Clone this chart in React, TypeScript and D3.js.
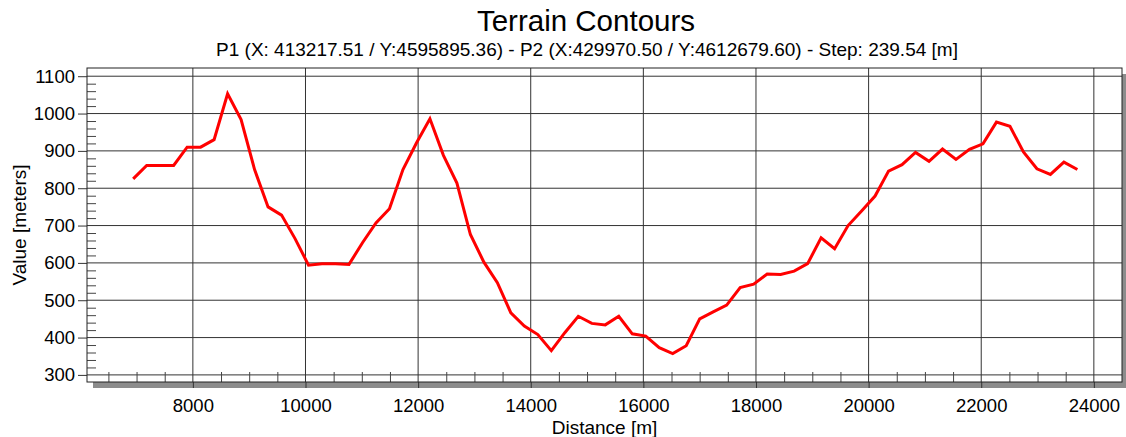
import * as d3 from 'd3';
import { useEffect, useRef } from 'react';

const chartTitle = 'Terrain Contours';
const chartSubtitle = 'P1 (X: 413217.51 / Y:4595895.36) - P2 (X:429970.50 / Y:4612679.60) - Step: 239.54 [m]';
const xTitle = 'Distance [m]';
const yTitle = 'Value [meters]';

// profile samples, one every step metres starting at startDistance
const startDistance = 6940;
const step = 239.54;
const elevations = [
  825, 861, 861, 861, 910, 910, 930, 1053, 984, 850,
  750, 728, 665, 594, 598, 598, 596, 654, 707, 745,
  850, 921, 986, 888, 814, 676, 602, 547, 466, 431,
  408, 365, 413, 457, 438, 434, 457, 410, 404, 373,
  357, 378, 450, 469, 487, 534, 543, 570, 569, 578,
  598, 667, 638, 700, 739, 779, 846, 863, 896, 872,
  905, 877, 904, 919, 977, 966, 897, 852, 837, 870,
  850,
];

const xTicks = [8000, 10000, 12000, 14000, 16000, 18000, 20000, 22000, 24000];
const yTicks = [300, 400, 500, 600, 700, 800, 900, 1000, 1100];

const FONT = '"Liberation Sans", Arial, sans-serif';

function App() {
  const svgRef = useRef<SVGSVGElement>(null);

  useEffect(() => {
    const svg = d3.select(svgRef.current);
    svg.selectAll('*').remove();

    const plot = { left: 87, right: 1122, top: 68, bottom: 382 };

    const xScale = d3.scaleLinear().domain([6120, 24500]).range([plot.left, plot.right]);
    const yScale = d3.scaleLinear().domain([281, 1122]).range([plot.bottom, plot.top]);

    const data = elevations.map((v, i) => ({ d: startDistance + i * step, v }));

    // drop shadow behind the plot box
    svg.append('rect')
      .attr('x', plot.left + 6)
      .attr('y', plot.top + 6)
      .attr('width', plot.right - plot.left)
      .attr('height', plot.bottom - plot.top)
      .attr('fill', '#8c8c8c');

    svg.append('rect')
      .attr('x', plot.left)
      .attr('y', plot.top)
      .attr('width', plot.right - plot.left)
      .attr('height', plot.bottom - plot.top)
      .attr('fill', '#fff');

    const grid = svg.append('g').attr('stroke', '#333').attr('stroke-width', 1);
    grid.selectAll('line.gx').data(xTicks).join('line')
      .attr('class', 'gx')
      .attr('x1', d => xScale(d)).attr('x2', d => xScale(d))
      .attr('y1', plot.top).attr('y2', plot.bottom);
    grid.selectAll('line.gy').data(yTicks).join('line')
      .attr('class', 'gy')
      .attr('x1', plot.left).attr('x2', plot.right)
      .attr('y1', d => yScale(d)).attr('y2', d => yScale(d));

    // minor ticks inside the box
    const yMinor = d3.range(300, 1101, 20).filter(v => v % 100 !== 0);
    const xMinor = d3.range(6500, 24001, 500).filter(v => v % 2000 !== 0);

    const yMinorAxis = svg.append('g')
      .attr('transform', `translate(${plot.left},0)`)
      .call(d3.axisRight(yScale).tickValues(yMinor).tickSize(9).tickFormat(() => ''));
    yMinorAxis.select('.domain').remove();
    yMinorAxis.selectAll('line').attr('stroke', '#444');

    const xMinorAxis = svg.append('g')
      .attr('transform', `translate(0,${plot.bottom})`)
      .call(d3.axisTop(xScale).tickValues(xMinor).tickSize(10).tickFormat(() => ''));
    xMinorAxis.select('.domain').remove();
    xMinorAxis.selectAll('line').attr('stroke', '#444');

    // major axes
    const xAxis = svg.append('g')
      .attr('transform', `translate(0,${plot.bottom})`)
      .call(d3.axisBottom(xScale).tickValues(xTicks).tickSize(6).tickPadding(11).tickFormat(d3.format('d')));
    xAxis.select('.domain').remove();
    xAxis.selectAll('line').attr('stroke', '#333');
    xAxis.selectAll('text')
      .attr('fill', '#000')
      .style('font-family', FONT)
      .style('font-size', '18.5px');

    const yAxis = svg.append('g')
      .attr('transform', `translate(${plot.left},0)`)
      .call(d3.axisLeft(yScale).tickValues(yTicks).tickSize(9).tickPadding(3).tickFormat(d3.format('d')));
    yAxis.select('.domain').remove();
    yAxis.selectAll('line').attr('stroke', '#333');
    yAxis.selectAll('text')
      .attr('fill', '#000')
      .style('font-family', FONT)
      .style('font-size', '18.5px');

    // box frame
    svg.append('rect')
      .attr('x', plot.left)
      .attr('y', plot.top)
      .attr('width', plot.right - plot.left)
      .attr('height', plot.bottom - plot.top)
      .attr('fill', 'none')
      .attr('stroke', '#222')
      .attr('stroke-width', 1);

    const line = d3.line<{ d: number; v: number }>()
      .x(p => xScale(p.d))
      .y(p => yScale(p.v));

    svg.append('path')
      .datum(data)
      .attr('fill', 'none')
      .attr('stroke', '#ff0000')
      .attr('stroke-width', 3)
      .attr('stroke-linejoin', 'miter')
      .attr('d', line);

    svg.append('text')
      .attr('x', 586)
      .attr('y', 31)
      .attr('text-anchor', 'middle')
      .style('font-family', FONT)
      .style('font-size', '29.5px')
      .text(chartTitle);

    svg.append('text')
      .attr('x', 587)
      .attr('y', 56)
      .attr('text-anchor', 'middle')
      .style('font-family', FONT)
      .style('font-size', '19px')
      .text(chartSubtitle);

    svg.append('text')
      .attr('x', (plot.left + plot.right) / 2)
      .attr('y', 434)
      .attr('text-anchor', 'middle')
      .style('font-family', FONT)
      .style('font-size', '19px')
      .text(xTitle);

    svg.append('text')
      .attr('transform', `translate(26,${(plot.top + plot.bottom) / 2}) rotate(-90)`)
      .attr('text-anchor', 'middle')
      .style('font-family', FONT)
      .style('font-size', '19px')
      .text(yTitle);
  }, []);

  return (
    <svg
      ref={svgRef}
      width={1126}
      height={437}
      style={{ position: 'fixed', left: 0, top: 0, background: '#fff' }}
    />
  );
}

export default App;
